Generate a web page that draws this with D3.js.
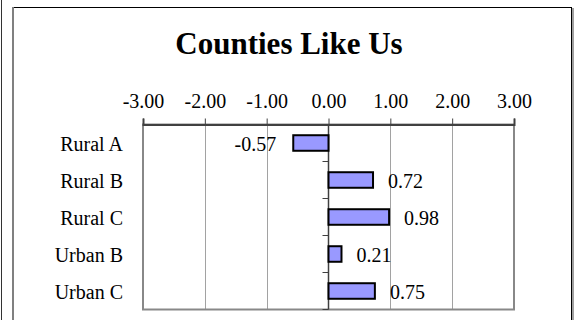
<!DOCTYPE html>
<html><head><meta charset="utf-8">
<script src="https://cdn.jsdelivr.net/npm/d3@7"></script>
<style>html,body{margin:0;padding:0;background:#fff;}svg{display:block;}</style>
</head><body>
<script>
const categories = ["Rural A", "Rural B", "Rural C", "Urban B", "Urban C"];
const values = [-0.57, 0.72, 0.98, 0.21, 0.75];
const xTicks = [-3, -2, -1, 0, 1, 2, 3];
const title = "Counties Like Us";

const W = 576, H = 320;
const svg = d3.select("body").append("svg").attr("width", W).attr("height", H);
const font = "'Liberation Serif','Times New Roman',serif";

// page border & chart frame
svg.append("line").attr("x1", 1.5).attr("x2", 1.5).attr("y1", 0).attr("y2", H).attr("stroke", "#333").attr("stroke-width", 1);
svg.append("line").attr("x1", 12).attr("x2", 572).attr("y1", 7.5).attr("y2", 7.5).attr("stroke", "#000").attr("stroke-width", 1);
svg.append("line").attr("x1", 13).attr("x2", 13).attr("y1", 7).attr("y2", H).attr("stroke", "#808080").attr("stroke-width", 2);
svg.append("line").attr("x1", 571.5).attr("x2", 571.5).attr("y1", 7).attr("y2", H).attr("stroke", "#000").attr("stroke-width", 1);
svg.append("line").attr("x1", 573).attr("x2", 573).attr("y1", 8).attr("y2", H).attr("stroke", "#a0a0a0").attr("stroke-width", 2);

svg.append("text").attr("x", 289).attr("y", 54).attr("text-anchor", "middle")
  .attr("font-family", font).attr("font-weight", "bold").attr("font-size", 31).attr("fill", "#000").text(title);

const L = 143, R = 514, T = 124.5, B = 309.5;
const x = d3.scaleLinear().domain([-3, 3]).range([L, R]);
const y = d3.scaleBand().domain(categories).range([T, B]).paddingInner(0.58).paddingOuter(0.29);
const yRow = d3.scaleBand().domain(categories).range([T, B]);

// gridlines
svg.append("g").selectAll("line").data(xTicks.filter(d => d !== 0 && Math.abs(d) !== 3)).join("line")
  .attr("x1", d => Math.round(x(d)) + 0.5).attr("x2", d => Math.round(x(d)) + 0.5)
  .attr("y1", T).attr("y2", B).attr("stroke", "#444").attr("stroke-width", 1).attr("stroke-dasharray", "1,1");

// plot border
svg.append("rect").attr("x", L).attr("y", T).attr("width", R - L).attr("height", B - T)
  .attr("fill", "none").attr("stroke", "#888").attr("stroke-width", 2);

// top axis
const xAxis = d3.axisTop(x).tickValues(xTicks).tickSize(6).tickFormat(d => d.toFixed(2));
const gx = svg.append("g").attr("transform", `translate(0,${T})`).call(xAxis);
gx.select(".domain").attr("stroke", "#404040").attr("stroke-width", 2);
gx.selectAll(".tick line").attr("stroke", "#404040").attr("stroke-width", 1);
gx.selectAll(".tick text").attr("font-family", font).attr("font-size", 20).attr("fill", "#000").attr("y", -17).attr("dy", 0);

// zero line with category ticks
const x0 = x(0);
svg.append("line").attr("x1", x0).attr("x2", x0).attr("y1", T).attr("y2", B).attr("stroke", "#404040").attr("stroke-width", 1.5);
svg.append("g").selectAll("line").data(categories).join("line")
  .attr("x1", x0 - 6).attr("x2", x0).attr("y1", d => yRow(d) + yRow.bandwidth()).attr("y2", d => yRow(d) + yRow.bandwidth())
  .attr("stroke", "#404040").attr("stroke-width", 1);

// bars
svg.append("g").selectAll("rect").data(values).join("rect")
  .attr("x", d => x(Math.min(0, d))).attr("width", d => Math.abs(x(d) - x0))
  .attr("y", (d, i) => y(categories[i])).attr("height", y.bandwidth())
  .attr("fill", "#9999ff").attr("stroke", "#000").attr("stroke-width", 2);

// category labels
svg.append("g").selectAll("text").data(categories).join("text")
  .attr("x", 123).attr("y", d => yRow(d) + yRow.bandwidth() / 2 + 7.5).attr("text-anchor", "end")
  .attr("font-family", font).attr("font-size", 20).attr("fill", "#000").text(d => d);

// value labels
svg.append("g").selectAll("text").data(values).join("text")
  .attr("x", d => d < 0 ? x(d) - 17 : x(d) + 15)
  .attr("y", (d, i) => yRow(categories[i]) + yRow.bandwidth() / 2 + 8)
  .attr("text-anchor", d => d < 0 ? "end" : "start")
  .attr("font-family", font).attr("font-size", 20).attr("fill", "#000").text(d => d.toFixed(2));
</script>
</body></html>
